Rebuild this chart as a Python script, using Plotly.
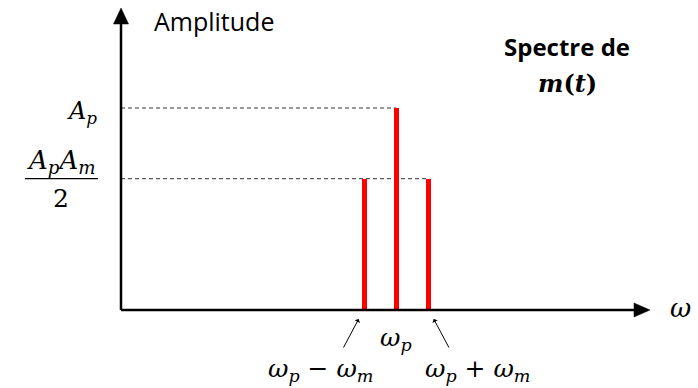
import plotly.graph_objects as go

# ---- data ----
omega_p = 8.6
omega_m = 1.0
freqs = [omega_p - omega_m, omega_p, omega_p + omega_m]
amp_p = 1.0
amp_side = 0.65
amps = [amp_side, amp_p, amp_side]
freq_labels = ["<i>ω</i><sub><i>p</i></sub> − <i>ω</i><sub><i>m</i></sub>",
               "<i>ω</i><sub><i>p</i></sub>",
               "<i>ω</i><sub><i>p</i></sub> + <i>ω</i><sub><i>m</i></sub>"]

W, H = 698, 388
X0PX, Y0PX = 121, 310      # pixel position of origin
XS, YS = 32.0, 202.0       # pixels per unit

def dx(px):  # pixel -> data x
    return (px - X0PX) / XS

def dy(py):  # pixel -> data y
    return (Y0PX - py) / YS

MATH = "DejaVu Serif"
SANS = "Open Sans"

fig = go.Figure()
fig.add_trace(go.Bar(x=freqs, y=amps, width=5 / XS, marker=dict(color="#ff0000", line=dict(width=0)),
                     hoverinfo="skip", showlegend=False))

shapes = []
# dashed guide lines
shapes.append(dict(type="line", x0=0, x1=omega_p, y0=amp_p, y1=amp_p, xref="x", yref="y",
                   line=dict(color="#333333", width=1, dash="4px,3px"), layer="below"))
shapes.append(dict(type="line", x0=0, x1=omega_p + omega_m, y0=amp_side, y1=amp_side, xref="x", yref="y",
                   line=dict(color="#333333", width=1, dash="4px,3px"), layer="below"))
# axes
shapes.append(dict(type="line", x0=0, x1=0, y0=0, y1=dy(22), line=dict(color="black", width=2.5)))
shapes.append(dict(type="line", x0=0, x1=dx(636), y0=0, y1=0, line=dict(color="black", width=2.5)))
shapes.append(dict(type="path",
                   path=f"M {dx(121)} {dy(8)} L {dx(128.5)} {dy(24)} L {dx(113.5)} {dy(24)} Z",
                   fillcolor="black", line=dict(color="black", width=0.5)))
shapes.append(dict(type="path",
                   path=f"M {dx(650)} {dy(310)} L {dx(634)} {dy(303)} L {dx(634)} {dy(317)} Z",
                   fillcolor="black", line=dict(color="black", width=0.5)))
# fraction bar
shapes.append(dict(type="line", x0=dx(25), x1=dx(98), y0=amp_side, y1=amp_side, line=dict(color="black", width=1.3)))

ann = []
ann.append(dict(x=dx(214), y=dy(21), text="Amplitude", showarrow=False,
                font=dict(family=SANS, size=25, color="black")))
ann.append(dict(x=dx(567), y=dy(46), text="<b>Spectre de</b>", showarrow=False,
                font=dict(family=SANS, size=24, color="black")))
ann.append(dict(x=dx(567), y=dy(83), text="<b><i>m</i>(<i>t</i>)</b>", showarrow=False,
                font=dict(family=MATH, size=24, color="black")))
ann.append(dict(x=dx(82), y=dy(112), text="<i>A</i><sub><i>p</i></sub>", showarrow=False,
                font=dict(family=MATH, size=24, color="black")))
ann.append(dict(x=dx(61), y=dy(161), text="<i>A</i><sub><i>p</i></sub><i>A</i><sub><i>m</i></sub>", showarrow=False,
                font=dict(family=MATH, size=26, color="black")))
ann.append(dict(x=dx(61), y=dy(198), text="2", showarrow=False,
                font=dict(family=MATH, size=25, color="black")))
ann.append(dict(x=dx(680), y=dy(308), text="<i>ω</i>", showarrow=False,
                font=dict(family=MATH, size=26, color="black")))
# frequency labels
ann.append(dict(x=freqs[1], y=dy(339), text=freq_labels[1], showarrow=False,
                font=dict(family=MATH, size=25, color="black")))
ann.append(dict(x=dx(320), y=dy(370), text=freq_labels[0], showarrow=False,
                font=dict(family=MATH, size=25, color="black")))
ann.append(dict(x=dx(477), y=dy(370), text=freq_labels[2], showarrow=False,
                font=dict(family=MATH, size=25, color="black")))
# pointer arrows
ann.append(dict(x=freqs[0] - 5.5 / XS, y=dy(319), ax=-16, ay=30, text="", showarrow=True,
                arrowhead=1, arrowsize=1, arrowwidth=1, arrowcolor="black"))
ann.append(dict(x=freqs[2] + 5.5 / XS, y=dy(319), ax=16, ay=30, text="", showarrow=True,
                arrowhead=1, arrowsize=1, arrowwidth=1, arrowcolor="black"))

fig.update_layout(
    width=W, height=H, margin=dict(l=0, r=0, t=0, b=0),
    paper_bgcolor="white", plot_bgcolor="white",
    xaxis=dict(range=[dx(0), dx(W)], visible=False, fixedrange=True),
    yaxis=dict(range=[dy(H), dy(0)], visible=False, fixedrange=True),
    shapes=shapes, annotations=ann, bargap=0,
)
fig.write_html("out.html")
